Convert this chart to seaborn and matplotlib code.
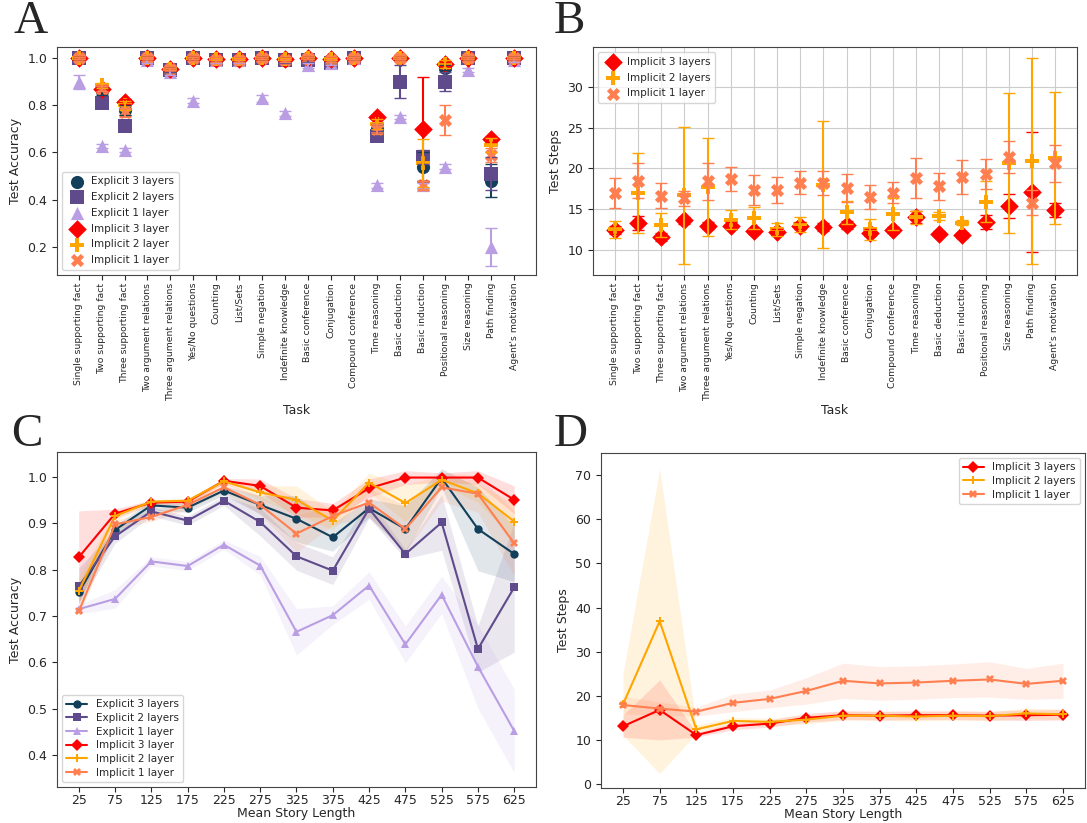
import numpy as np
import pandas as pd
import seaborn as sns
import matplotlib
matplotlib.use('Agg')
import matplotlib.pyplot as plt

# ---- data: panel A / B (per task) ----
tasks = ['Single supporting fact', 'Two supporting fact', 'Three supporting fact',
         'Two argument relations', 'Three argument relations', 'Yes/No questions',
         'Counting', 'List/Sets', 'Simple negation', 'Indefinite knowledge',
         'Basic conference', 'Conjugation', 'Compound conference', 'Time reasoning',
         'Basic deduction', 'Basic induction', 'Positional reasoning', 'Size reasoning',
         'Path finding', "Agent's motivation"]

exp3_acc = [1.0, 0.86, 0.78, 1.0, 0.95, 1.0, 0.99, 0.99, 1.0, 0.99, 1.0, 0.99, 1.0, 0.70, 1.0, 0.54, 0.96, 1.0, 0.48, 1.0]
exp3_err = [0.005, 0.015, 0.02, 0.005, 0.01, 0.005, 0.005, 0.005, 0.005, 0.005, 0.005, 0.005, 0.005, 0.02, 0.005, 0.06, 0.01, 0.005, 0.07, 0.005]
exp2_acc = [1.0, 0.81, 0.71, 1.0, 0.95, 1.0, 0.99, 0.99, 1.0, 0.99, 0.99, 0.98, 1.0, 0.67, 0.90, 0.58, 0.90, 1.0, 0.51, 1.0]
exp2_err = [0.005, 0.01, 0.02, 0.005, 0.01, 0.005, 0.005, 0.005, 0.005, 0.01, 0.005, 0.01, 0.005, 0.02, 0.07, 0.03, 0.04, 0.005, 0.07, 0.005]
exp1_acc = [0.90, 0.627, 0.61, 0.99, 0.94, 0.82, 0.99, 0.99, 0.83, 0.765, 0.97, 0.98, 1.0, 0.46, 0.75, 0.46, 0.54, 0.95, 0.20, 0.99]
exp1_err = [0.03, 0.01, 0.01, 0.01, 0.01, 0.01, 0.01, 0.01, 0.015, 0.01, 0.01, 0.01, 0.005, 0.01, 0.01, 0.01, 0.01, 0.01, 0.08, 0.005]
imp3_acc = [1.0, 0.87, 0.815, 1.0, 0.955, 1.0, 0.995, 0.995, 1.0, 0.995, 1.0, 0.995, 1.0, 0.75, 1.0, 0.70, 0.975, 1.0, 0.655, 1.0]
imp3_err = [0.005, 0.01, 0.01, 0.005, 0.005, 0.005, 0.005, 0.005, 0.005, 0.005, 0.005, 0.005, 0.005, 0.01, 0.005, 0.22, 0.01, 0.005, 0.01, 0.005]
imp2_acc = [1.0, 0.885, 0.80, 1.0, 0.955, 1.0, 0.995, 0.995, 1.0, 0.995, 1.0, 0.995, 1.0, 0.72, 1.0, 0.555, 0.975, 1.0, 0.63, 1.0]
imp2_err = [0.005, 0.01, 0.02, 0.005, 0.005, 0.005, 0.005, 0.005, 0.005, 0.005, 0.005, 0.005, 0.005, 0.02, 0.005, 0.10, 0.015, 0.005, 0.03, 0.005]
imp1_acc = [1.0, 0.87, 0.77, 1.0, 0.955, 1.0, 0.99, 0.99, 1.0, 0.99, 1.0, 0.99, 1.0, 0.70, 1.0, 0.46, 0.737, 1.0, 0.59, 1.0]
imp1_err = [0.005, 0.01, 0.02, 0.005, 0.005, 0.005, 0.005, 0.005, 0.005, 0.005, 0.005, 0.005, 0.005, 0.02, 0.005, 0.02, 0.063, 0.005, 0.03, 0.005]

imp3_steps = [12.45, 13.27, 11.55, 13.6, 12.95, 12.95, 12.3, 12.2, 12.95, 12.8, 13.06, 12.1, 12.45, 14.0, 11.96, 11.75, 13.4, 15.4, 17.1, 14.9]
imp3_serr = [0.5, 0.9, 0.5, 0.4, 0.4, 0.4, 0.4, 0.4, 0.4, 0.5, 0.5, 0.4, 0.4, 0.7, 0.3, 0.3, 0.9, 1.5, 7.4, 0.9]
imp2_steps = [12.5, 17.0, 13.06, 16.7, 17.7, 13.7, 13.9, 12.5, 13.1, 18.0, 14.6, 12.5, 14.4, 14.0, 14.1, 13.3, 15.9, 20.6, 20.9, 21.3]
imp2_serr = [1.0, 4.9, 1.5, 8.4, 6.0, 1.2, 1.4, 0.8, 0.9, 7.8, 1.4, 1.3, 2.0, 0.8, 0.5, 0.3, 2.5, 8.6, 12.6, 8.1]
imp1_steps = [16.95, 18.5, 16.65, 16.3, 18.4, 18.7, 17.35, 17.3, 18.25, 18.2, 17.6, 16.45, 17.0, 18.8, 17.8, 18.9, 19.3, 21.4, 15.8, 20.6]
imp1_serr = [1.8, 2.1, 1.5, 0.9, 2.3, 1.45, 1.8, 1.6, 1.4, 1.5, 1.75, 1.5, 1.3, 2.45, 1.65, 2.1, 1.8, 2.0, 1.5, 2.3]

# ---- data: panel C / D (per story length) ----
lengths = [25, 75, 125, 175, 225, 275, 325, 375, 425, 475, 525, 575, 625]

c_exp3 = [0.751, 0.886, 0.939, 0.934, 0.971, 0.94, 0.91, 0.87, 0.933, 0.888, 0.998, 0.888, 0.834]
c_exp3_ci = [0.02, 0.01, 0.01, 0.01, 0.01, 0.02, 0.05, 0.03, 0.02, 0.05, 0.02, 0.09, 0.06]
c_exp2 = [0.764, 0.872, 0.926, 0.906, 0.949, 0.903, 0.829, 0.798, 0.932, 0.834, 0.902, 0.629, 0.762]
c_exp2_ci = [0.04, 0.015, 0.01, 0.01, 0.01, 0.03, 0.03, 0.03, 0.02, 0.01, 0.06, 0.05, 0.14]
c_exp1 = [0.715, 0.737, 0.818, 0.808, 0.854, 0.809, 0.666, 0.702, 0.766, 0.639, 0.746, 0.591, 0.452]
c_exp1_ci = [0.01, 0.02, 0.01, 0.01, 0.01, 0.02, 0.05, 0.02, 0.03, 0.04, 0.04, 0.09, 0.09]
c_imp3 = [0.827, 0.921, 0.945, 0.947, 0.992, 0.981, 0.934, 0.928, 0.976, 0.999, 0.999, 0.999, 0.951]
c_imp3_ci = [0.10, 0.01, 0.005, 0.005, 0.005, 0.015, 0.02, 0.015, 0.02, 0.015, 0.01, 0.015, 0.03]
c_imp2 = [0.754, 0.916, 0.947, 0.949, 0.991, 0.967, 0.951, 0.906, 0.988, 0.944, 0.994, 0.965, 0.904]
c_imp2_ci = [0.03, 0.01, 0.005, 0.005, 0.005, 0.015, 0.03, 0.02, 0.02, 0.04, 0.01, 0.02, 0.04]
c_imp1 = [0.71, 0.898, 0.914, 0.94, 0.978, 0.94, 0.878, 0.916, 0.945, 0.888, 0.978, 0.964, 0.857]
c_imp1_ci = [0.01, 0.01, 0.01, 0.01, 0.01, 0.02, 0.04, 0.02, 0.03, 0.05, 0.03, 0.04, 0.07]

d_imp3 = [13.1, 16.8, 11.1, 13.1, 13.7, 15.0, 15.6, 15.5, 15.6, 15.6, 15.5, 15.6, 15.7]
d_imp3_ci = [2.5, 6.8, 0.5, 0.8, 0.8, 1.0, 1.0, 1.0, 1.0, 1.0, 1.0, 1.2, 1.2]
d_imp2 = [18.05, 36.9, 12.4, 14.3, 14.1, 14.6, 15.5, 15.5, 15.3, 15.5, 15.4, 16.0, 15.8]
d_imp2_ci = [7.0, 34.5, 1.0, 0.8, 0.8, 1.0, 1.0, 1.0, 1.0, 1.0, 1.0, 1.2, 1.2]
d_imp1 = [17.9, 17.1, 16.4, 18.4, 19.3, 21.1, 23.4, 22.8, 23.0, 23.4, 23.7, 22.7, 23.4]
d_imp1_ci = [2.0, 1.5, 1.0, 2.0, 2.0, 3.0, 4.0, 3.8, 3.8, 3.8, 4.0, 3.5, 4.0]

# colours / markers
NAVY, PURPLE, LAV = '#123f5a', '#5f4b8b', '#b99ee3'
RED, ORANGE, CORAL = '#ff0000', '#ffa500', '#ff7f50'

sns.set_style('ticks')
plt.rcParams['font.family'] = ['DejaVu Sans']
plt.rcParams['axes.edgecolor'] = '#444444'

fig = plt.figure(figsize=(10.87, 8.23), dpi=100)
axA = fig.add_axes([0.0524, 0.6659, 0.4407, 0.2770])
axB = fig.add_axes([0.5455, 0.6659, 0.4453, 0.2770])
axC = fig.add_axes([0.0524, 0.0437, 0.4407, 0.4070])
axD = fig.add_axes([0.5529, 0.0425, 0.4453, 0.4070])

idx = np.arange(len(tasks))

# Panel A
seriesA = [
    ('Explicit 3 layers', exp3_acc, exp3_err, NAVY, 'o'),
    ('Explicit 2 layers', exp2_acc, exp2_err, PURPLE, 's'),
    ('Explicit 1 layer', exp1_acc, exp1_err, LAV, '^'),
    ('Implicit 3 layer', imp3_acc, imp3_err, RED, 'D'),
    ('Implicit 2 layer', imp2_acc, imp2_err, ORANGE, 'P'),
    ('Implicit 1 layer', imp1_acc, imp1_err, CORAL, 'X'),
]
for name, vals, err, col, mk in seriesA:
    axA.errorbar(idx, vals, yerr=err, fmt='none', ecolor=col, elinewidth=1.5, capsize=4)
    sns.scatterplot(x=idx, y=vals, marker=mk, color=col, s=90, linewidth=0, label=name, ax=axA)
axA.set_xticks(idx)
axA.set_xticklabels(tasks, rotation=90, fontsize=6.7)
axA.set_xlim(-0.95, 19.95)
axA.set_ylim(0.08, 1.047)
axA.set_yticks([0.2, 0.4, 0.6, 0.8, 1.0])
axA.tick_params(axis='y', labelsize=9)
axA.tick_params(axis='x', pad=2)
axA.set_xlabel('Task', fontsize=9, labelpad=2)
axA.set_ylabel('Test Accuracy', fontsize=9)
axA.legend(loc='lower left', fontsize=7.5, handletextpad=0.3, borderpad=0.45, labelspacing=0.55)

# Panel B
seriesB = [
    ('Implicit 3 layers', imp3_steps, imp3_serr, RED, 'D'),
    ('Implicit 2 layers', imp2_steps, imp2_serr, ORANGE, 'P'),
    ('Implicit 1 layer', imp1_steps, imp1_serr, CORAL, 'X'),
]
axB.grid(True, color='#cccccc', linewidth=0.8)
axB.set_axisbelow(True)
for name, vals, err, col, mk in seriesB:
    axB.errorbar(idx, vals, yerr=err, fmt='none', ecolor=col, elinewidth=1.5, capsize=4)
    sns.scatterplot(x=idx, y=vals, marker=mk, color=col, s=90, linewidth=0, label=name, ax=axB)
axB.set_xticks(idx)
axB.set_xticklabels(tasks, rotation=90, fontsize=6.7)
axB.set_xlim(-0.95, 19.95)
axB.set_ylim(6.9, 34.9)
axB.set_yticks([10, 15, 20, 25, 30])
axB.tick_params(axis='y', labelsize=9)
axB.tick_params(axis='x', pad=2)
axB.set_xlabel('Task', fontsize=9, labelpad=2)
axB.set_ylabel('Test Steps', fontsize=9)
axB.legend(loc='upper left', fontsize=7.5, handletextpad=0.3, borderpad=0.45, labelspacing=0.55)

# Panel C
seriesC = [
    ('Explicit 3 layers', c_exp3, c_exp3_ci, NAVY, 'o'),
    ('Explicit 2 layers', c_exp2, c_exp2_ci, PURPLE, 's'),
    ('Explicit 1 layer', c_exp1, c_exp1_ci, LAV, '^'),
    ('Implicit 3 layer', c_imp3, c_imp3_ci, RED, 'D'),
    ('Implicit 2 layer', c_imp2, c_imp2_ci, ORANGE, 'P'),
    ('Implicit 1 layer', c_imp1, c_imp1_ci, CORAL, 'X'),
]
for name, vals, ci, col, mk in seriesC:
    v = np.array(vals)
    e = np.array(ci)
    axC.fill_between(lengths, v - e, v + e, color=col, alpha=0.13, linewidth=0)
    sns.lineplot(x=lengths, y=vals, marker=mk, color=col, markersize=6, markeredgewidth=0,
                 linewidth=1.5, label=name, ax=axC)
axC.set_xticks(lengths)
axC.set_xlim(-5, 655)
axC.set_ylim(0.331, 1.054)
axC.tick_params(labelsize=9)
axC.tick_params(axis='x', pad=1.5)
axC.set_xlabel('Mean Story Length', fontsize=9, labelpad=0)
axC.set_ylabel('Test Accuracy', fontsize=9)
axC.legend(loc='lower left', fontsize=7.5, borderpad=0.4, labelspacing=0.35)

# Panel D
seriesD = [
    ('Implicit 3 layers', d_imp3, d_imp3_ci, RED, 'D'),
    ('Implicit 2 layers', d_imp2, d_imp2_ci, ORANGE, 'P'),
    ('Implicit 1 layer', d_imp1, d_imp1_ci, CORAL, 'X'),
]
for name, vals, ci, col, mk in seriesD:
    v = np.array(vals)
    e = np.array(ci)
    axD.fill_between(lengths, v - e, v + e, color=col, alpha=0.13, linewidth=0)
    sns.lineplot(x=lengths, y=vals, marker=mk, color=col, markersize=6, markeredgewidth=0,
                 linewidth=1.5, label=name, ax=axD)
axD.set_xticks(lengths)
axD.set_xlim(-5, 655)
axD.set_ylim(-0.9, 75)
axD.set_yticks([0, 10, 20, 30, 40, 50, 60, 70])
axD.tick_params(labelsize=9)
axD.tick_params(axis='x', pad=1.5)
axD.set_xlabel('Mean Story Length', fontsize=9, labelpad=0)
axD.set_ylabel('Test Steps', fontsize=9)
axD.legend(loc='upper right', fontsize=7.5, borderpad=0.4, labelspacing=0.35)

# panel letters
for lx, ly, letter in [(0.012, 0.960, 'A'), (0.509, 0.960, 'B'), (0.010, 0.458, 'C'), (0.509, 0.458, 'D')]:
    fig.text(lx, ly, letter, fontsize=34, family='Liberation Serif', va='baseline')

fig.savefig('out.png', dpi=100)
